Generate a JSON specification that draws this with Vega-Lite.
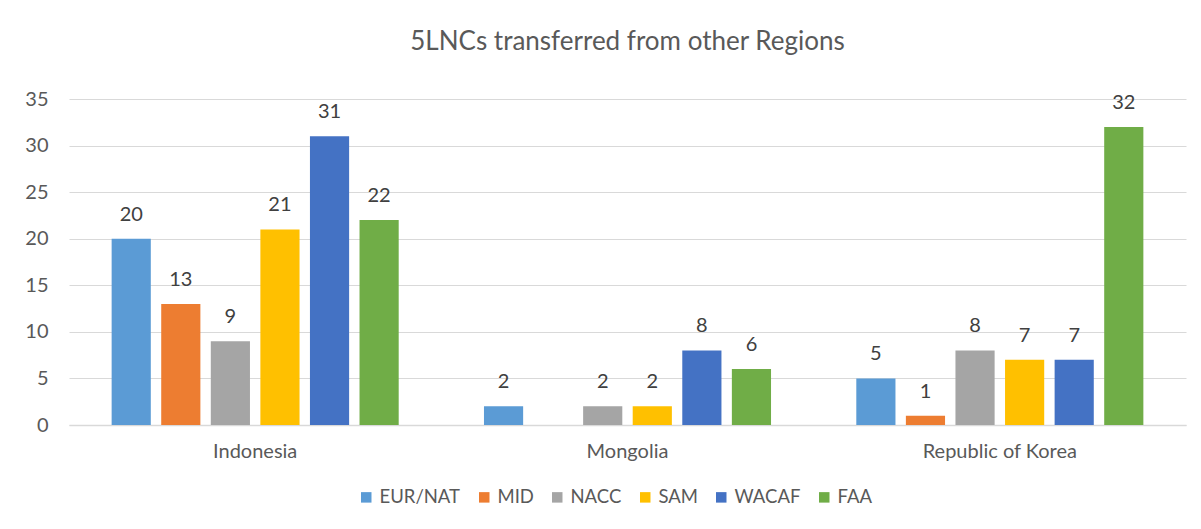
{
  "$schema": "https://vega.github.io/schema/vega-lite/v6.json",
  "autosize": "none",
  "width": 1117,
  "height": 326,
  "padding": {"left": 69, "top": 99, "right": 15, "bottom": 104},
  "background": "white",
  "title": {
    "text": "5LNCs transferred from other Regions",
    "fontSize": 26,
    "font": "Lato",
    "fontWeight": "normal",
    "color": "#595959",
    "anchor": "middle",
    "offset": 34
  },
  "data": {
    "values": [
      {"country": "Indonesia", "region": "EUR/NAT", "value": 20},
      {"country": "Indonesia", "region": "MID", "value": 13},
      {"country": "Indonesia", "region": "NACC", "value": 9},
      {"country": "Indonesia", "region": "SAM", "value": 21},
      {"country": "Indonesia", "region": "WACAF", "value": 31},
      {"country": "Indonesia", "region": "FAA", "value": 22},
      {"country": "Mongolia", "region": "EUR/NAT", "value": 2},
      {"country": "Mongolia", "region": "NACC", "value": 2},
      {"country": "Mongolia", "region": "SAM", "value": 2},
      {"country": "Mongolia", "region": "WACAF", "value": 8},
      {"country": "Mongolia", "region": "FAA", "value": 6},
      {"country": "Republic of Korea", "region": "EUR/NAT", "value": 5},
      {"country": "Republic of Korea", "region": "MID", "value": 1},
      {"country": "Republic of Korea", "region": "NACC", "value": 8},
      {"country": "Republic of Korea", "region": "SAM", "value": 7},
      {"country": "Republic of Korea", "region": "WACAF", "value": 7},
      {"country": "Republic of Korea", "region": "FAA", "value": 32}
    ]
  },
  "encoding": {
    "x": {
      "field": "country",
      "type": "nominal",
      "sort": null,
      "scale": {"paddingInner": 0, "paddingOuter": 0},
      "axis": {
        "title": null,
        "labelAngle": 0,
        "labelFont": "Lato",
        "labelFontSize": 20,
        "labelColor": "#595959",
        "labelPadding": 16,
        "ticks": false,
        "domainColor": "#D9D9D9",
        "domainWidth": 1.5
      }
    },
    "xOffset": {
      "field": "region",
      "type": "nominal",
      "sort": ["EUR/NAT", "MID", "NACC", "SAM", "WACAF", "FAA"],
      "scale": {"paddingInner": 0.21, "paddingOuter": 0.86}
    },
    "y": {
      "field": "value",
      "type": "quantitative",
      "scale": {"domain": [0, 35]},
      "axis": {
        "title": null,
        "values": [0, 5, 10, 15, 20, 25, 30, 35],
        "labelFont": "Lato",
        "labelFontSize": 20,
        "labelColor": "#595959",
        "labelPadding": 21,
        "ticks": false,
        "domain": false,
        "gridColor": "#D9D9D9",
        "gridWidth": 1.2
      }
    }
  },
  "layer": [
    {
      "mark": {"type": "bar"},
      "encoding": {
        "color": {
          "field": "region",
          "type": "nominal",
          "sort": ["EUR/NAT", "MID", "NACC", "SAM", "WACAF", "FAA"],
          "scale": {
            "domain": ["EUR/NAT", "MID", "NACC", "SAM", "WACAF", "FAA"],
            "range": ["#5B9BD5", "#ED7D31", "#A5A5A5", "#FFC000", "#4472C4", "#70AD47"]
          },
          "legend": {
            "title": null,
            "orient": "none",
            "legendX": 288,
            "legendY": 389,
            "direction": "horizontal",
            "symbolType": "square",
            "symbolSize": 110,
            "symbolStrokeWidth": 0,
            "labelFont": "Lato",
            "labelFontSize": 18.5,
            "labelColor": "#595959",
            "labelOffset": 4,
            "columnPadding": 14,
            "padding": 0
          }
        }
      }
    },
    {
      "mark": {"type": "text", "dy": -24, "font": "Lato", "fontSize": 20, "color": "#404040"},
      "encoding": {
        "text": {"field": "value", "type": "quantitative"}
      }
    }
  ],
  "config": {
    "view": {"stroke": null}
  }
}
